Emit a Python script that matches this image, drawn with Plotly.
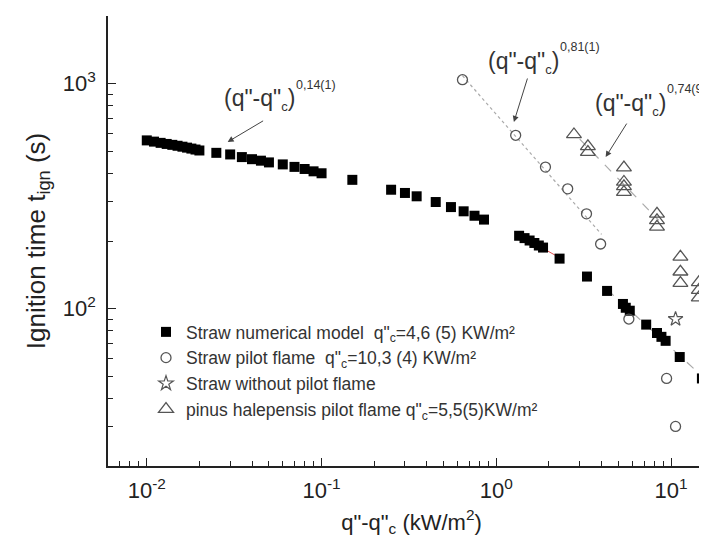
import numpy as np
import plotly.graph_objects as go

# ---- data ----
sq_x = [0.010, 0.011, 0.012, 0.013, 0.014, 0.015, 0.016, 0.017, 0.018, 0.019, 0.020,
        0.025, 0.030, 0.035, 0.040, 0.045, 0.050, 0.060, 0.070, 0.080, 0.090, 0.100,
        0.15, 0.25, 0.30, 0.35, 0.45, 0.55, 0.65, 0.75, 0.85,
        1.35, 1.45, 1.55, 1.65, 1.75, 1.85, 2.3, 3.3, 4.3, 5.3, 5.5, 5.8,
        7.2, 8.3, 8.8, 9.3, 11.2, 15.0]
sq_y = [560, 553, 546, 540, 535, 530, 525, 520, 515, 510, 505,
        493, 485, 472, 462, 455, 447, 438, 427, 418, 408, 400,
        374, 338, 327, 316, 298, 283, 271, 259, 249,
        211, 206, 201, 196, 191, 187, 167, 139, 120, 105, 101, 98,
        85, 78, 75, 72, 61, 49]

ci_x = [0.64, 1.29, 1.91, 2.56, 3.28, 3.95, 5.73, 9.42, 10.6]
ci_y = [1042, 590, 426, 341, 264, 194, 90, 49, 30]

star_x = [10.6]
star_y = [90]

tr_x = [2.78, 3.34, 3.34, 5.37, 5.37, 5.37, 5.37, 8.3, 8.3, 8.3, 11.3, 11.3, 11.3, 14.4, 14.4, 14.4]
tr_y = [595, 527, 497, 424, 366, 350, 330, 264, 247, 231, 170, 146, 130, 131, 121, 112]

x_ticks = [0.01, 0.1, 1, 10]
x_ticktext = ["10<sup>-2</sup>", "10<sup>-1</sup>", "10<sup>0</sup>", "10<sup>1</sup>"]
y_ticks = [100, 1000]
y_ticktext = ["10<sup>2</sup>", "10<sup>3</sup>"]

legend_names = [
    'Straw numerical model  q"<sub>c</sub>=4,6 (5) KW/m²',
    'Straw pilot flame  q"<sub>c</sub>=10,3 (4) KW/m²',
    'Straw without pilot flame',
    'pinus halepensis pilot flame q"<sub>c</sub>=5,5(5)KW/m²',
]
ann_main = '(q"-q"<sub><span style="font-size:13px">c</span></sub>)'
ann_exps = ['0,14(1)', '0,81(1)', '0,74(9)']


def fit_line(xs, ys, lo, hi, x0, x1):
    xs = np.array(xs); ys = np.array(ys)
    m = (xs >= lo) & (xs <= hi)
    p = np.polyfit(np.log10(xs[m]), np.log10(ys[m]), 1)
    lx = np.array([x0, x1])
    return lx, 10 ** np.polyval(p, np.log10(lx))


GRAY = "#555555"
FONT = "Liberation Sans, Arial"
fig = go.Figure()

# fit lines
lx, ly = fit_line(sq_x, sq_y, 1.3, 2.4, 1.35, 2.3)
fig.add_trace(go.Scatter(x=lx, y=ly, mode="lines", line=dict(color="#e05050", width=1), showlegend=False))
lx, ly = fit_line(sq_x, sq_y, 4.0, 16, 4.3, 17.5)
fig.add_trace(go.Scatter(x=lx, y=ly, mode="lines", line=dict(color="#aaaaaa", width=1.2, dash="dash"), showlegend=False))
lx, ly = fit_line(ci_x, ci_y, 0.6, 4.0, 0.64, 4.0)
fig.add_trace(go.Scatter(x=lx, y=ly, mode="lines", line=dict(color="#aaaaaa", width=1.2, dash="dot"), showlegend=False))
lx, ly = fit_line(tr_x, tr_y, 2.7, 8.5, 3.0, 8.5)
fig.add_trace(go.Scatter(x=lx, y=ly, mode="lines", line=dict(color="#aaaaaa", width=1.2, dash="dash"), showlegend=False))

fig.add_trace(go.Scatter(x=sq_x, y=sq_y, mode="markers", name=legend_names[0],
                         marker=dict(symbol="square", size=10, color="black")))
fig.add_trace(go.Scatter(x=ci_x, y=ci_y, mode="markers", name=legend_names[1],
                         marker=dict(symbol="circle-open", size=10, color=GRAY, line=dict(width=1.3))))
fig.add_trace(go.Scatter(x=star_x, y=star_y, mode="markers", name=legend_names[2],
                         marker=dict(symbol="star-open", size=11, color=GRAY, line=dict(width=1.2))))
fig.add_trace(go.Scatter(x=tr_x, y=tr_y, mode="markers", name=legend_names[3],
                         marker=dict(symbol="triangle-up-open", size=13, color=GRAY, line=dict(width=1.3))))

L, T, W, H = 100, 8, 607, 450


def px2paper(px, py):
    return (px - L) / W, (T + H - py) / H


# annotation texts: main part + small exponent
for exp, (px, py) in zip(ann_exps, [(214, 92), (478, 54), (585, 96)]):
    ax_, ay_ = px2paper(px, py)
    fig.add_annotation(x=ax_, y=ay_, xref="paper", yref="paper", text=ann_main, showarrow=False,
                       xanchor="left", yanchor="middle",
                       font=dict(size=23, color="#333333", family=FONT))
    ex_, ey_ = px2paper(px + 72, py - 15)
    fig.add_annotation(x=ex_, y=ey_, xref="paper", yref="paper", text=exp, showarrow=False,
                       xanchor="left", yanchor="middle",
                       font=dict(size=12.5, color="#333333", family=FONT))

# arrows (heads at data points, tails offset in pixels)
for hx, hy, dx, dy in [(0.029, 551, 37, -22), (1.26, 676, 14, -45), (4.22, 472, 22, -35)]:
    fig.add_annotation(x=np.log10(hx), y=np.log10(hy), xref="x", yref="y", text="",
                       showarrow=True, ax=dx, ay=dy, arrowhead=2, arrowsize=1.2,
                       arrowwidth=1, arrowcolor="#444444")

axis_common = dict(showline=True, linecolor="#222222", linewidth=1.6, ticks="inside",
                   tickcolor="#222222", tickwidth=1.3, ticklen=8, showgrid=False, zeroline=False,
                   mirror=False, tickfont=dict(size=22, color="#222222", family=FONT))

x_minor = [m * 10 ** e for e in range(-3, 2) for m in range(2, 10)]
fig.update_xaxes(type="log", range=[np.log10(0.006), 1.251], tickmode="array",
                 tickvals=x_ticks, ticktext=x_ticktext, ticklabelstandoff=4,
                 minor=dict(ticks="inside", ticklen=5, tickwidth=1.2, tickcolor="#222222",
                            tickmode="array", tickvals=x_minor, showgrid=False),
                 title=dict(text='q"-q"<sub>c</sub> (kW/m<sup>2</sup>)', standoff=12,
                            font=dict(size=22, color="#222222", family=FONT)),
                 **axis_common)
y_minor = [m * 10 ** e for e in range(1, 4) for m in range(2, 10)]
fig.update_yaxes(type="log", range=[np.log10(20), np.log10(2000)], tickmode="array",
                 tickvals=y_ticks, ticktext=y_ticktext, ticklabelstandoff=6,
                 minor=dict(ticks="inside", ticklen=5, tickwidth=1.2, tickcolor="#222222",
                            tickmode="array", tickvals=y_minor, showgrid=False),
                 title=dict(text="Ignition time t<sub>ign</sub> (s)", standoff=10,
                            font=dict(size=26, color="#222222", family=FONT)),
                 **axis_common)

fig.update_layout(
    width=707, height=547,
    margin=dict(l=L, r=707 - L - W, t=T, b=547 - T - H),
    paper_bgcolor="white", plot_bgcolor="white",
    font=dict(family=FONT, color="#222222"),
    legend=dict(x=px2paper(138, 0)[0], y=px2paper(0, 306)[1], xanchor="left", yanchor="top",
                bgcolor="rgba(0,0,0,0)", font=dict(size=17.5, color="#333333", family=FONT)),
)

fig.write_html("out.html")
